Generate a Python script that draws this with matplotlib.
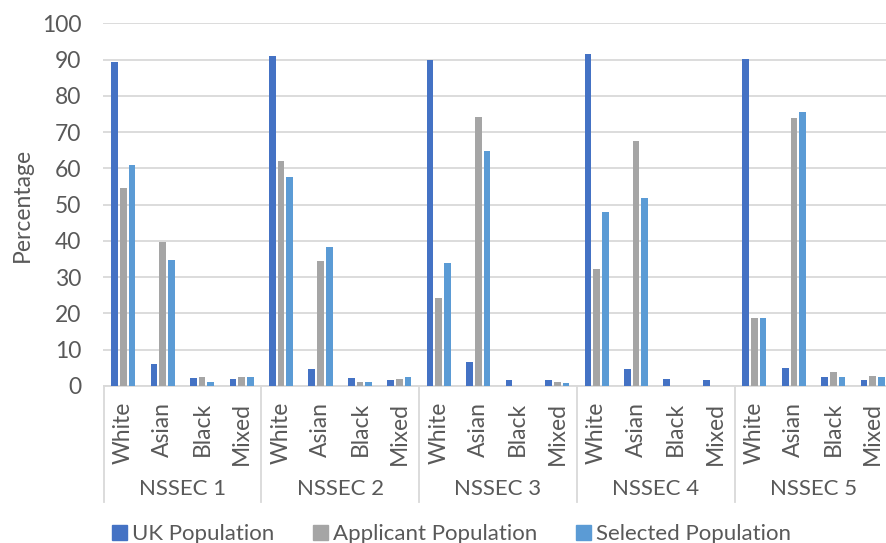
import matplotlib.pyplot as plt
import numpy as np
from matplotlib.patches import Patch

plt.rcParams['font.family'] = ['Lato', 'DejaVu Sans']

groups = ['NSSEC 1', 'NSSEC 2', 'NSSEC 3', 'NSSEC 4', 'NSSEC 5']
ethnicities = ['White', 'Asian', 'Black', 'Mixed']
series_names = ['UK Population', 'Applicant Population', 'Selected Population']

uk_pop = [89.3, 6.0, 2.2, 1.9,
          90.9, 4.6, 2.2, 1.6,
          89.8, 6.5, 1.7, 1.7,
          91.5, 4.6, 1.9, 1.7,
          90.1, 5.1, 2.5, 1.7]
applicant_pop = [54.7, 39.7, 2.4, 2.6,
                 61.9, 34.6, 1.1, 1.8,
                 24.2, 74.2, 0.0, 1.1,
                 32.2, 67.6, 0.0, 0.0,
                 18.8, 73.9, 3.9, 2.8]
selected_pop = [61.0, 34.8, 1.0, 2.5,
                57.5, 38.3, 1.1, 2.4,
                33.9, 64.7, 0.0, 0.9,
                48.0, 51.8, 0.0, 0.0,
                18.8, 75.6, 2.5, 2.5]

colors = ['#4472C4', '#A5A5A5', '#5B9BD5']
text_col = '#595959'
grid_col = '#D9D9D9'

W, H = 887, 543
fig = plt.figure(figsize=(W / 100, H / 100), dpi=100)
# plot area in pixels: x 103.5 -> 892.5, y 23.3 -> 386 (runs a bit past the right edge)
ax = fig.add_axes([103.5 / W, (H - 386) / H, (892.5 - 103.5) / W, (386 - 23.3) / H])

n = len(groups) * len(ethnicities)
x = np.arange(n)
offsets = [-0.22, 0.0, 0.22]
for vals, off, col, name in zip([uk_pop, applicant_pop, selected_pop], offsets, colors, series_names):
    ax.bar(x + off, vals, width=0.17, color=col, label=name, zorder=3)

ax.set_xlim(-0.5, n - 0.5)
ax.set_ylim(0, 100)
ax.set_yticks(range(0, 101, 10))
ax.yaxis.grid(True, color=grid_col, linewidth=1.3, zorder=0)
ax.tick_params(axis='y', length=0, pad=16, labelsize=16.5, labelcolor=text_col)
for s in ['top', 'right', 'left']:
    ax.spines[s].set_visible(False)
ax.spines['bottom'].set_color(grid_col)
ax.spines['bottom'].set_linewidth(1.3)

# inner category labels
ax.set_xticks(x)
ax.set_xticklabels(ethnicities * len(groups), rotation=90, va='top', ha='center')
ax.tick_params(axis='x', length=0, pad=11.5, labelsize=16.5, labelcolor=text_col)

# group labels and separators
trans = ax.get_xaxis_transform()
span = 386 - 23.3
for i, g in enumerate(groups):
    ax.text(i * 4 + 1.5, -(489 - 386) / span, g, transform=trans, ha='center', va='center',
            fontsize=16, color=text_col)
for i in range(len(groups) + 1):
    ax.plot([i * 4 - 0.5] * 2, [0, -(502 - 386) / span], transform=trans, color=grid_col,
            linewidth=1.3, clip_on=False)

ax.set_ylabel('Percentage', fontsize=16.5, color=text_col)
ax.yaxis.set_label_coords(-(103.5 - 33) / (892.5 - 103.5), 0.5)

handles = [Patch(color=c) for c in colors]
fig.legend(handles, series_names, loc='center left', bbox_to_anchor=(101 / W, 9 / H),
           ncol=3, frameon=False, fontsize=16, labelcolor=text_col, borderpad=0,
           handlelength=0.65, handleheight=0.65, handletextpad=0.25, columnspacing=1.75)

fig.savefig('out.png', dpi=100)
